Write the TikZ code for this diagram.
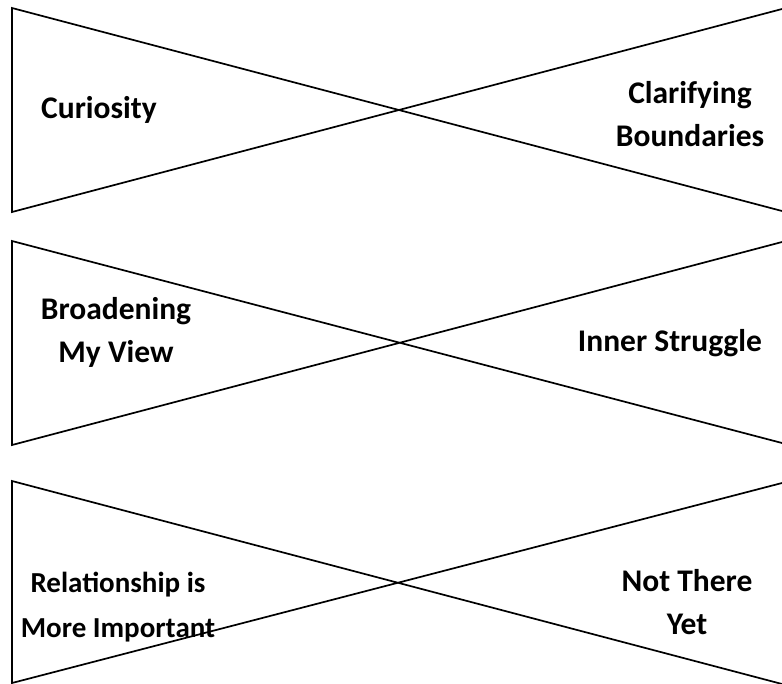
\documentclass[tikz,border=0pt]{standalone}
\usepackage{fontspec}
\setmainfont{Carlito}
\begin{document}
\begin{tikzpicture}[x=1pt,y=-1pt,line width=1.7pt,every node/.style={font=\bfseries\fontsize{31.5}{43}\selectfont,align=center,inner sep=0pt}]
\useasboundingbox (0,0) rectangle (782,683);
% three bow ties
\coordinate (t1) at (12,8);   \coordinate (b1) at (12,212);
\coordinate (r1) at (782,9);  \coordinate (s1) at (782,211);
\coordinate (t2) at (12,241); \coordinate (b2) at (12,445);
\coordinate (r2) at (782,242);\coordinate (s2) at (782,443);
\coordinate (t3) at (12,481); \coordinate (b3) at (12,683);
\coordinate (r3) at (782,483);\coordinate (s3) at (782,684);
\foreach \i in {1,2,3}
  \draw (s\i)--(t\i)--(b\i)--(r\i);
\node (cur) at (99,110) {Curiosity};
\node (cla) at (690,114) {Clarifying\\Boundaries};
\node (bro) at (116,332) {Broadening\\My View};
\node (inn) at (670,343) {Inner Struggle};
\node[font=\bfseries\fontsize{29}{45}\selectfont] (rel) at (118,607) {Relationship is\\More Important};
\node (not) at (687,602) {Not There\\Yet};
\end{tikzpicture}
\end{document}
